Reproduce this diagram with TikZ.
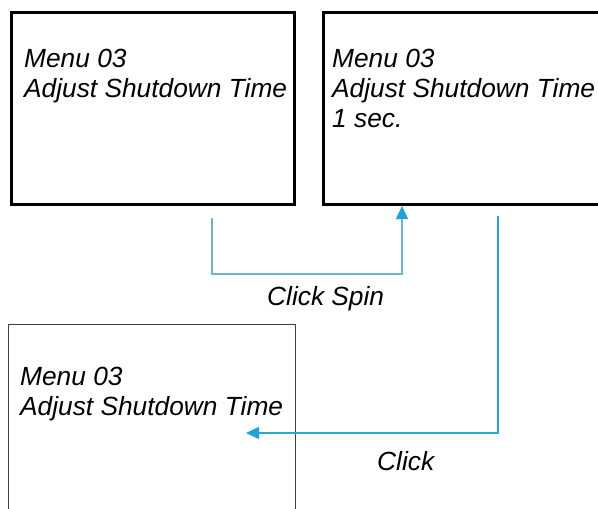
\documentclass[tikz,border=0pt]{standalone}
\usepackage{fontspec}
\setmainfont{Liberation Sans}
\usetikzlibrary{arrows.meta}
\definecolor{spinline}{HTML}{6CB5CA}
\definecolor{clickline}{HTML}{29A8D8}
\definecolor{tipblue}{HTML}{1FA3D6}
\begin{document}
\begin{tikzpicture}[x=1pt,y=-1pt,
	screen/.style={draw,line width=3pt,anchor=north west,inner sep=0pt,minimum width=#1,minimum height=192pt},
	screentext/.style={anchor=north west,inner sep=0pt,align=left,font=\fontsize{26.3}{30}\selectfont\itshape},
	label/.style={anchor=base west,inner sep=0pt,font=\fontsize{26.3}{30}\selectfont\itshape},
	link/.style={line width=1.5pt,-{Triangle[length=13pt,width=12pt,color=tipblue]}}]
	\useasboundingbox (0,0) rectangle (598,509);
	\node[screen=283pt] (m1) at (10,11) {};
	\node[screen=290pt] (m2) at (322,11) {};
	\node[screen=287pt,line width=1.2pt,draw=black!75,minimum height=200pt] (m3) at (8,324) {};
	
	\node[screentext] (t1) at (24,49.2) {Menu 03\\Adjust Shutdown Time};
	\node[screentext] (t2) at (332,49.2) {Menu 03\\Adjust Shutdown Time\\1 sec.};
	\node[screentext] (t3) at (20,367.2) {Menu 03\\Adjust Shutdown Time};
	
	\coordinate (s) at (212,218);
	\coordinate (sk) at (402,274);
	\coordinate (c) at (498,216);
	\coordinate (ct) at (246,433);
	
	\draw[link,spinline] (s) |- (sk) -- (sk |- m2.south);
	\draw[link,clickline] (c) |- (ct);
	
	\node[label] (l1) at (267,305) {Click Spin};
	\node[label] (l2) at (377,470) {Click};
\end{tikzpicture}
\end{document}
